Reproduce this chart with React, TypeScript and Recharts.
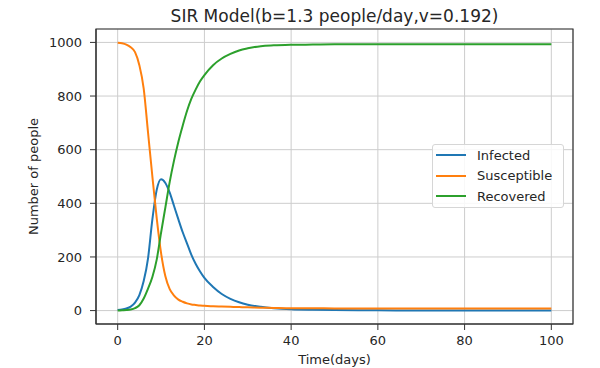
import React from 'react';
import { LineChart, Line, XAxis, YAxis, CartesianGrid, ReferenceArea } from 'recharts';

const days = [0, 1, 2, 3, 4, 5, 6, 7, 8, 9, 10, 11, 12, 13, 14, 15, 16, 17, 18, 19, 20, 22, 24, 26, 28, 30, 33, 36, 40, 45, 50, 60, 70, 80, 90, 100];
const infected = [2, 4, 8, 15, 30, 58, 110, 195, 340, 450, 490, 476, 440, 390, 340, 292, 250, 208, 174, 146, 122, 88, 62, 44, 31, 22, 14, 9, 5, 3, 2, 1, 0, 0, 0, 0];
const susceptible = [999, 997, 992, 982, 964, 915, 828, 664, 500, 345, 215, 128, 80, 56, 41, 33, 27, 23, 21, 19, 18, 16, 15, 14, 13, 12, 11, 10, 9, 9, 8, 8, 8, 8, 8, 8];
const recovered = [0, 1, 2, 4, 9, 20, 45, 82, 125, 190, 290, 385, 480, 560, 630, 690, 745, 790, 825, 855, 878, 915, 940, 957, 970, 978, 986, 989, 991, 992, 993, 993, 993, 993, 993, 993];

const xTicks = [0, 20, 40, 60, 80, 100];
const yTicks = [0, 200, 400, 600, 800, 1000];
const seriesNames = ['Infected', 'Susceptible', 'Recovered'];
const seriesColors = ['#1f77b4', '#ff7f0e', '#2ca02c'];
const chartTitle = 'SIR Model(b=1.3 people/day,v=0.192)';
const xLabel = 'Time(days)';
const yLabel = 'Number of people';

const data = days.map((t, i) => ({
  t,
  Infected: infected[i],
  Susceptible: susceptible[i],
  Recovered: recovered[i],
}));

const FONT = '"DejaVu Sans", Verdana, sans-serif';
const TEXT = '#262626';
const SPINE = '#333333';

const tickStyle = { fill: TEXT, fontSize: 13, fontFamily: FONT };

export default function App() {
  return (
    <div style={{ position: 'absolute', left: 0, top: 0, width: 600, height: 368, background: '#ffffff' }}>
      <LineChart
        width={600}
        height={368}
        data={data}
        margin={{ top: 29, right: 27, bottom: 0, left: 0 }}
      >
        <CartesianGrid stroke="#cdcdcd" strokeWidth={1} />
        <XAxis
          dataKey="t"
          type="number"
          domain={[-5, 105]}
          ticks={xTicks}
          height={44}
          tick={tickStyle}
          tickSize={6}
          tickMargin={6}
          stroke={SPINE}
          tickLine={{ stroke: SPINE }}
          axisLine={{ stroke: SPINE }}
          allowDataOverflow
        />
        <YAxis
          type="number"
          domain={[-50, 1050]}
          ticks={yTicks}
          width={96}
          tick={tickStyle}
          tickSize={6}
          tickMargin={8}
          stroke={SPINE}
          tickLine={{ stroke: SPINE }}
          axisLine={{ stroke: SPINE }}
          allowDataOverflow
        />
        {seriesNames.map((name, i) => (
          <Line
            key={name}
            type="monotone"
            dataKey={name}
            stroke={seriesColors[i]}
            strokeWidth={2}
            dot={false}
            activeDot={false}
            isAnimationActive={false}
          />
        ))}
        <ReferenceArea
          x1={-5}
          x2={105}
          y1={-50}
          y2={1050}
          fill="none"
          fillOpacity={0}
          stroke={SPINE}
          strokeWidth={1.2}
          strokeOpacity={1}
          ifOverflow="visible"
        />
      </LineChart>
      <svg
        width={600}
        height={368}
        style={{ position: 'absolute', left: 0, top: 0, pointerEvents: 'none' }}
      >
        <text x={334.5} y={22} textAnchor="middle" fontFamily={FONT} fontSize={17} fill={TEXT}>
          {chartTitle}
        </text>
        <text x={334.5} y={364} textAnchor="middle" fontFamily={FONT} fontSize={13} fill={TEXT}>
          {xLabel}
        </text>
        <text
          transform="translate(38,176.5) rotate(-90)"
          textAnchor="middle"
          fontFamily={FONT}
          fontSize={13}
          fill={TEXT}
        >
          {yLabel}
        </text>
      </svg>
      <div
        style={{
          position: 'absolute',
          left: 432,
          top: 144,
          width: 132,
          height: 64,
          boxSizing: 'border-box',
          background: 'rgba(255,255,255,0.85)',
          border: '1px solid #d6d6d6',
          borderRadius: 3,
          fontFamily: FONT,
          fontSize: 13,
          color: TEXT,
        }}
      >
        {seriesNames.map((n, i) => (
          <div
            key={n}
            style={{
              position: 'absolute',
              left: 3,
              top: 0 + i * 20.5,
              height: 20,
              display: 'flex',
              alignItems: 'center',
              whiteSpace: 'nowrap',
            }}
          >
            <span
              style={{
                display: 'inline-block',
                width: 30,
                height: 0,
                borderTop: `2px solid ${seriesColors[i]}`,
              }}
            />
            <span style={{ marginLeft: 11 }}>{n}</span>
          </div>
        ))}
      </div>
    </div>
  );
}
